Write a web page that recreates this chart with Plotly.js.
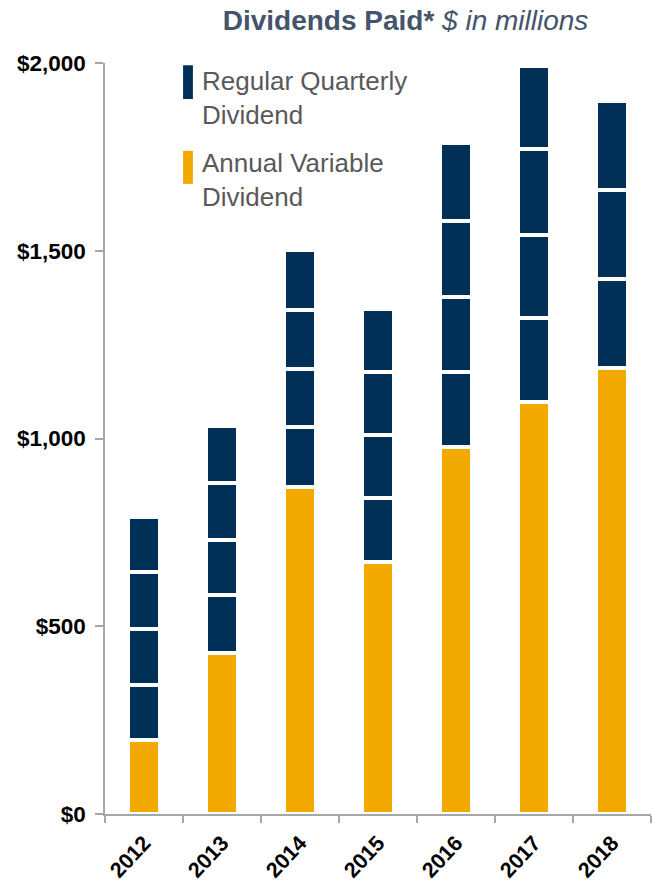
<!DOCTYPE html>
<html>
<head>
<meta charset="utf-8">
<script src="https://cdn.plot.ly/plotly-3.0.1.min.js"></script>
<style>
  html, body { margin: 0; padding: 0; background: #fff; }
  #chart { width: 652px; height: 885px; }
</style>
</head>
<body>
<div id="chart"></div>
<script>
const years = ['2012', '2013', '2014', '2015', '2016', '2017', '2018'];

// $ in millions
const annualVariable = [196, 430, 870, 672, 977, 1096, 1187];
const quarter1 = [147, 152, 160, 169, 201, 226, 237];
const quarter2 = [149, 148, 156, 168, 199, 221, 239];
const quarter3 = [152, 152, 156, 169, 201, 227, 237];
const quarter4 = [148, 151, 160, 168, 208, 221, null];

const yTickVals = [0, 500, 1000, 1500, 2000];
const yTickText = ['$0', '$500', '$1,000', '$1,500', '$2,000'];

const navy = '#003057';
const gold = '#F2A900';
const fontFamily = 'Liberation Sans, Arial, sans-serif';

function barTrace(values, color, name) {
    return {
        type: 'bar',
        x: years,
        y: values,
        name: name,
        showlegend: false,
        hoverinfo: 'x+y',
        marker: {
            color: color,
            line: { color: '#ffffff', width: 4 },
        },
    };
}

const data = [
    barTrace(annualVariable, gold, 'Annual Variable Dividend'),
    barTrace(quarter1, navy, 'Q1'),
    barTrace(quarter2, navy, 'Q2'),
    barTrace(quarter3, navy, 'Q3'),
    barTrace(quarter4, navy, 'Q4'),
];

// legend drawn by hand: tall thin swatch + two-line label
const legendItems = [
    { label: 'Regular Quarterly<br>Dividend', color: navy, top: 0.997, bottom: 0.952, mid: 0.953 },
    { label: 'Annual Variable<br>Dividend', color: gold, top: 0.883, bottom: 0.839, mid: 0.844 },
];

const shapes = legendItems.map(item => ({
    type: 'rect',
    xref: 'paper', yref: 'paper',
    x0: 0.143, x1: 0.161,
    y0: item.bottom, y1: item.top,
    fillcolor: item.color,
    line: { width: 0 },
}));

const annotations = legendItems.map(item => ({
    xref: 'paper', yref: 'paper',
    x: 0.174, y: item.mid,
    xanchor: 'left', yanchor: 'middle',
    align: 'left',
    showarrow: false,
    text: item.label,
    font: { family: fontFamily, size: 26, color: '#595959' },
}));

const layout = {
    width: 652,
    height: 885,
    barmode: 'stack',
    bargap: 0.6,
    plot_bgcolor: '#ffffff',
    paper_bgcolor: '#ffffff',
    margin: { l: 105, r: 1, t: 63, b: 71 },
    showlegend: false,
    title: {
        text: '<b>Dividends Paid*</b> <i>$ in millions</i>',
        font: { family: fontFamily, size: 28, color: '#44546A' },
        x: 0.622,
        xanchor: 'center',
        y: 0.977,
        yanchor: 'middle',
    },
    xaxis: {
        type: 'category',
        showline: true,
        linecolor: '#A6A6A6',
        linewidth: 1.5,
        ticks: 'outside',
        tickson: 'boundaries',
        ticklen: 7,
        tickcolor: '#A6A6A6',
        tickwidth: 1.5,
        tickangle: -47,
        ticklabelstandoff: 6,
        tickfont: { family: fontFamily, size: 21.5, color: '#000000', weight: 'bold' },
        showgrid: false,
        zeroline: false,
    },
    yaxis: {
        range: [0, 2000],
        tickvals: yTickVals,
        ticktext: yTickText,
        showline: true,
        linecolor: '#A6A6A6',
        linewidth: 1.5,
        ticks: 'outside',
        ticklen: 8,
        tickcolor: '#A6A6A6',
        tickwidth: 1.5,
        ticklabelstandoff: 5,
        tickfont: { family: fontFamily, size: 22.5, color: '#000000', weight: 'bold' },
        showgrid: false,
        zeroline: false,
    },
    shapes: shapes,
    annotations: annotations,
};

Plotly.newPlot('chart', data, layout, { displayModeBar: false, responsive: false });
</script>
</body>
</html>
